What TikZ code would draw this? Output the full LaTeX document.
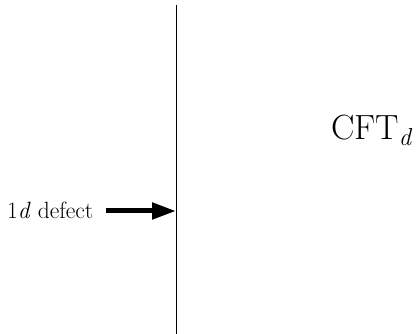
\documentclass[tikz,border=0pt]{standalone}
\usepackage{fontspec}
\usetikzlibrary{arrows.meta}
\begin{document}
\begin{tikzpicture}[x=1pt,y=1pt,
  label/.style={inner sep=0pt,outer sep=0pt},
  defectline/.style={line width=0.9pt},
  pointer/.style={line width=5pt,-{Triangle[length=24pt,width=16pt]}}]
\useasboundingbox (0,0) rectangle (417,334);
% the defect line
\coordinate (top) at (176,329);
\coordinate (bot) at (176,0);
\draw[defectline] (top) -- (bot);
% bulk label
\node[label,anchor=base west] (cft) at (331,194)
  {\fontsize{35}{42}\selectfont CFT\raisebox{-5.5pt}{\fontsize{24.5}{28}\selectfont\itshape d}};
% defect label and arrow
\node[label,anchor=base west] (dfct) at (7,115)
  {\fontsize{23.5}{28}\selectfont 1\textit{d} defect};
\coordinate (tail) at (106,123);
\coordinate (hit) at (176,123);
\draw[pointer] (tail) -- (hit);
\end{tikzpicture}
\end{document}
